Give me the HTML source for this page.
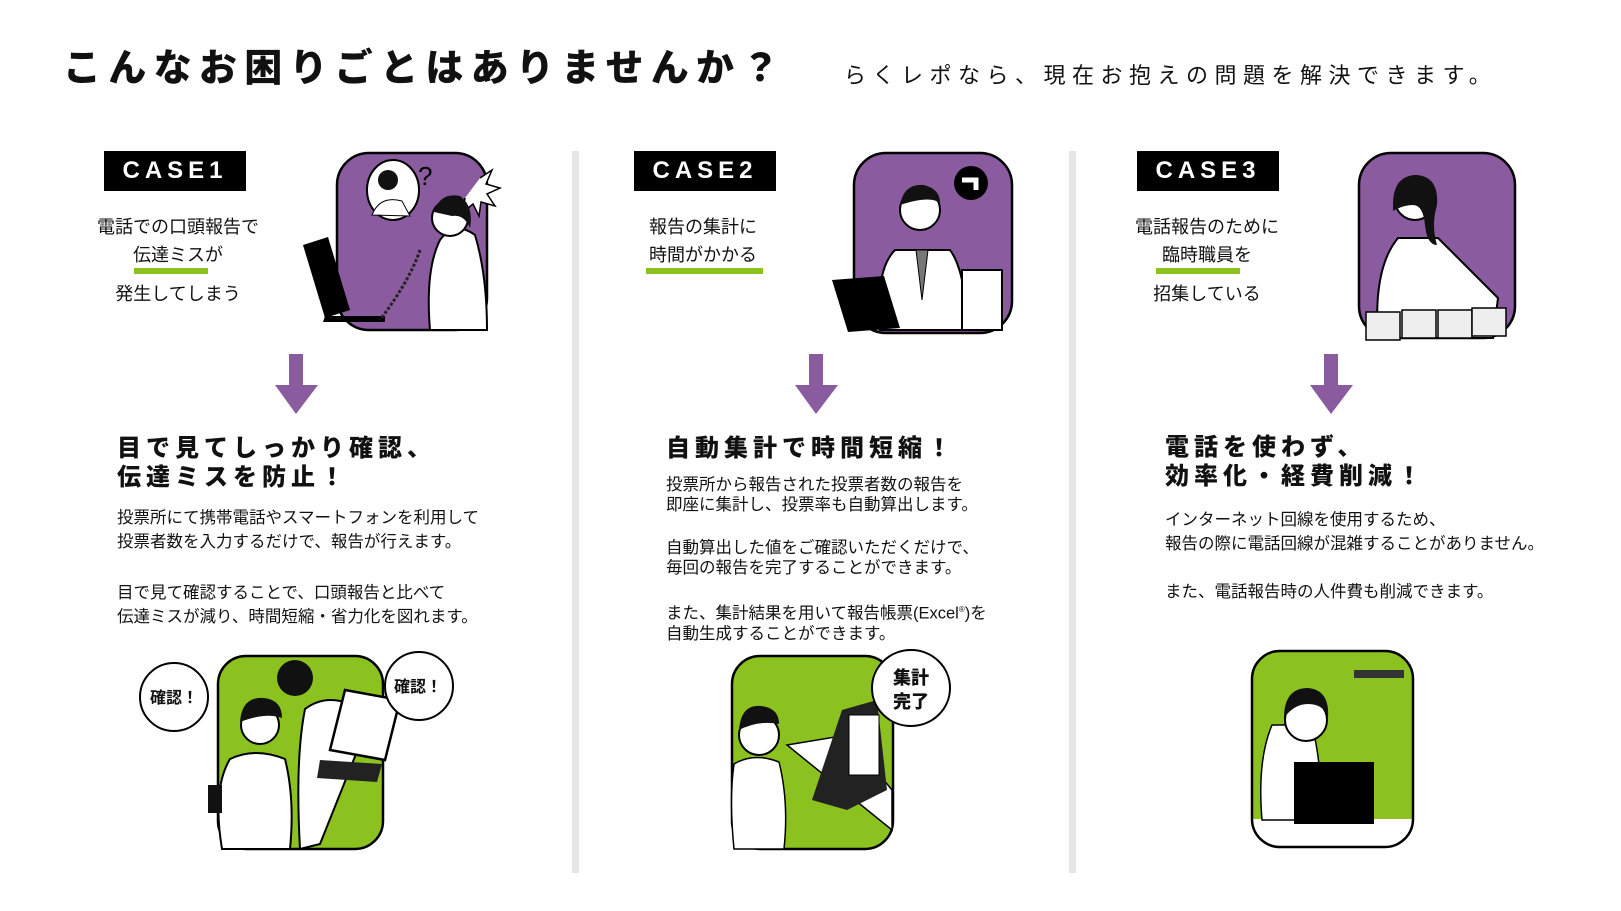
<!DOCTYPE html>
<html><head><meta charset="utf-8">
<style>
body{margin:0;width:1621px;height:911px;background:#fff;position:relative;overflow:hidden;font-family:"Liberation Sans","Noto Sans CJK JP",sans-serif;color:#111}
.a{position:absolute;white-space:nowrap}
.title{left:63px;top:44px;font-size:38px;font-weight:900;letter-spacing:7.3px;line-height:50px}
.sub{left:844px;top:60px;font-size:22px;letter-spacing:6.5px;line-height:32px}
.case{position:absolute;top:151px;width:142px;height:40px;background:#000;color:#fff;font-weight:bold;font-size:24px;letter-spacing:5px;text-align:center;line-height:40px}
.ct{position:absolute;width:200px;text-align:center;font-size:18px;line-height:22px}
.bar{position:absolute;height:6px;background:#8cc220}
.h{font-size:24px;font-weight:900;letter-spacing:5px;line-height:29px}
.b{font-size:16.5px;line-height:24px}
.b2{font-size:16.5px;line-height:20px}
</style></head><body>
<svg width="1621" height="911" style="position:absolute;left:0;top:0">
<rect x="572" y="151" width="7" height="722" fill="#e6e6e6"/>
<rect x="1069" y="151" width="7" height="722" fill="#e6e6e6"/>
<g fill="#8b5ba0">
<path d="M289 354h14v31h15l-22 29-21-29h14z"/>
<path d="M809 354h14v31h15l-22 29-21-29h14z"/>
<path d="M1324 354h14v31h15l-22 29-21-29h14z"/>
</g>
<rect x="337" y="153" width="150" height="177" rx="32" fill="#8b5ba0" stroke="#000" stroke-width="2.5"/>
<ellipse cx="393" cy="190" rx="26" ry="30" fill="#fff" stroke="#000" stroke-width="2"/>
<circle cx="388" cy="180" r="10" fill="#111"/>
<path d="M372 215q8-20 30-14l8 15z" fill="#fff" stroke="#000"/>
<text x="418" y="185" font-size="26" font-family="Liberation Sans" fill="#000">?</text>
<path d="M480 178l12 -8-6 14 14 4-13 6 8 12-14-4-2 14-6-12-10 8 2-14" fill="#fff" stroke="#000" stroke-width="1.5"/>
<path d="M430 330q-5-60 10-90q15-20 35-5q12 40 12 95z" fill="#fff" stroke="#000" stroke-width="2"/>
<circle cx="450" cy="218" r="18" fill="#fff" stroke="#000" stroke-width="2"/>
<path d="M434 212q6-20 26-16q14 10 10 32q-6-14-18-12z" fill="#111"/>
<path d="M303 245l25-8 22 73-25 8z" fill="#000"/>
<path d="M325 316h60v6h-62z" fill="#000"/>
<path d="M420 250q-10 30-40 70" stroke="#222" stroke-width="3" stroke-dasharray="3 2" fill="none"/>
<rect x="854" y="153" width="158" height="180" rx="32" fill="#8b5ba0" stroke="#000" stroke-width="2.5"/>
<circle cx="971" cy="183" r="17" fill="#000"/><path d="M962 180h14v10" stroke="#fff" stroke-width="5" fill="none"/>
<path d="M880 330q-5-60 15-80h55q15 20 18 80z" fill="#fff" stroke="#000" stroke-width="2"/>
<path d="M916 250l6 50 6-50z" fill="#777" stroke="#000"/>
<circle cx="920" cy="210" r="20" fill="#fff" stroke="#000" stroke-width="2"/>
<path d="M900 205q4-22 24-20q16 4 16 18q-10-8-40 2z" fill="#111"/>
<path d="M832 280l52-4 16 52-52 4z" fill="#000"/>
<rect x="962" y="270" width="40" height="60" fill="#fff" stroke="#000" stroke-width="2"/>
<rect x="1359" y="153" width="156" height="185" rx="32" fill="#8b5ba0" stroke="#000" stroke-width="2.5"/>
<path d="M1378 338q-5-70 20-100h40q30 30 60 60l-5 40z" fill="#fff" stroke="#000" stroke-width="2"/>
<circle cx="1415" cy="200" r="20" fill="#fff" stroke="#000" stroke-width="2"/>
<path d="M1393 205q0-30 24-30q22 2 20 30q-6 20 0 40q-10 0-12-20q-2-20-12-20q-10 0-20 6z" fill="#111"/>
<g fill="#eee" stroke="#000" stroke-width="1.5">
<rect x="1366" y="312" width="34" height="28"/><rect x="1402" y="310" width="34" height="28"/><rect x="1438" y="310" width="34" height="28"/><rect x="1472" y="308" width="34" height="28"/>
</g>
<rect x="218" y="656" width="165" height="193" rx="28" fill="#8cc220" stroke="#000" stroke-width="2.5"/>
<path d="M300 849q-5-90 5-140q20-15 45-5l10 40-40 100z" fill="#fff" stroke="#000" stroke-width="2"/>
<circle cx="295" cy="678" r="18" fill="#111"/>
<path d="M222 849q-10-60 8-90q25-12 55 0q10 40 5 90z" fill="#fff" stroke="#000" stroke-width="2"/>
<circle cx="260" cy="725" r="19" fill="#fff" stroke="#000" stroke-width="2"/>
<path d="M240 722q2-26 24-24q18 2 18 20q-16-6-42 4z" fill="#111"/>
<path d="M345 690l55 10-15 60-55-10z" fill="#fff" stroke="#000" stroke-width="2.5"/>
<path d="M320 760l62 4-5 18-60-4z" fill="#222"/>
<rect x="208" y="785" width="14" height="28" fill="#111"/>
<ellipse cx="174" cy="697" rx="34" ry="34" fill="#fff" stroke="#000" stroke-width="2"/>
<ellipse cx="419" cy="686" rx="34" ry="34" fill="#fff" stroke="#000" stroke-width="2"/>
<g transform="translate(-3,0)">
<rect x="735" y="656" width="161" height="193" rx="28" fill="#8cc220" stroke="#000" stroke-width="2.5"/>
<path d="M737 849q-5-50 0-85q20-12 45-2q10 40 5 87z" fill="#fff" stroke="#000" stroke-width="1.5"/>
<circle cx="762" cy="735" r="20" fill="#fff" stroke="#000" stroke-width="2"/>
<path d="M742 730q2-26 22-24q18 2 18 18q-20-4-40 6z" fill="#111"/>
<path d="M790 745l60-10 45 55v40z" fill="#fff" stroke="#000" stroke-width="1.5"/>
<path d="M845 710l35-10 10 90-40 20-35-10z" fill="#222"/>
<rect x="852" y="715" width="30" height="60" fill="#fff" stroke="#000"/>
<ellipse cx="914" cy="688" rx="39" ry="38" fill="#fff" stroke="#000" stroke-width="2"/>
</g>
<g transform="translate(-6,0)">
<clipPath id="c3"><rect x="1258" y="651" width="161" height="196" rx="28"/></clipPath>
<g clip-path="url(#c3)">
<rect x="1258" y="651" width="161" height="196" fill="#fff"/>
<rect x="1258" y="651" width="161" height="168" fill="#8cc220"/>
<path d="M1268 820q-5-60 10-95h40q10 40 10 95z" fill="#fff" stroke="#000" stroke-width="1.5"/>
<circle cx="1312" cy="720" r="21" fill="#fff" stroke="#000" stroke-width="2"/>
<path d="M1290 718q0-30 24-30q22 2 20 30q-4-14-20-14q-14 0-24 14z" fill="#111"/>
<rect x="1300" y="762" width="80" height="62" fill="#000"/>
<rect x="1360" y="670" width="50" height="8" fill="#333"/>
</g>
<rect x="1258" y="651" width="161" height="196" rx="28" fill="none" stroke="#000" stroke-width="2.5"/>
</g>
</svg>

<div class="a title">こんなお困りごとはありませんか？</div>
<div class="a sub">らくレポなら、現在お抱えの問題を解決できます。</div>

<div class="case" style="left:104px">CASE1</div>
<div class="case" style="left:634px">CASE2</div>
<div class="case" style="left:1137px">CASE3</div>

<div class="ct" style="left:78px;top:216px">電話での口頭報告で</div>
<div class="ct" style="left:78px;top:244px">伝達ミスが</div>
<div class="bar" style="left:134px;top:268px;width:74px"></div>
<div class="ct" style="left:78px;top:283px">発生してしまう</div>

<div class="ct" style="left:603px;top:216px">報告の集計に</div>
<div class="ct" style="left:603px;top:244px">時間がかかる</div>
<div class="bar" style="left:646px;top:268px;width:117px"></div>

<div class="ct" style="left:1107px;top:216px">電話報告のために</div>
<div class="ct" style="left:1107px;top:244px">臨時職員を</div>
<div class="bar" style="left:1156px;top:268px;width:84px"></div>
<div class="ct" style="left:1107px;top:283px">招集している</div>

<div class="a h" style="left:117px;top:434px">目で見てしっかり確認、<br>伝達ミスを防止！</div>
<div class="a b" style="left:117px;top:506px">投票所にて携帯電話やスマートフォンを利用して<br>投票者数を入力するだけで、報告が行えます。</div>
<div class="a b" style="left:117px;top:581px">目で見て確認することで、口頭報告と比べて<br>伝達ミスが減り、時間短縮・省力化を図れます。</div>

<div class="a h" style="left:666px;top:434px">自動集計で時間短縮！</div>
<div class="a b2" style="left:666px;top:475px">投票所から報告された投票者数の報告を<br>即座に集計し、投票率も自動算出します。</div>
<div class="a b2" style="left:666px;top:538px">自動算出した値をご確認いただくだけで、<br>毎回の報告を完了することができます。</div>
<div class="a b2" style="left:666px;top:600px">また、集計結果を用いて報告帳票(Excel<sup style="font-size:8px">®</sup>)を<br>自動生成することができます。</div>

<div class="a h" style="left:1165px;top:433px">電話を使わず、<br>効率化・経費削減！</div>
<div class="a b" style="left:1165px;top:508px">インターネット回線を使用するため、<br>報告の際に電話回線が混雑することがありません。</div>
<div class="a b" style="left:1165px;top:580px">また、電話報告時の人件費も削減できます。</div>

<div class="a" style="left:150px;top:684px;font-size:16px;font-weight:bold">確認！</div>
<div class="a" style="left:394px;top:673px;font-size:16px;font-weight:bold">確認！</div>
<div class="a" style="left:893px;top:666px;font-size:18px;font-weight:900;line-height:24px;text-align:center">集計<br>完了</div>
</body></html>
